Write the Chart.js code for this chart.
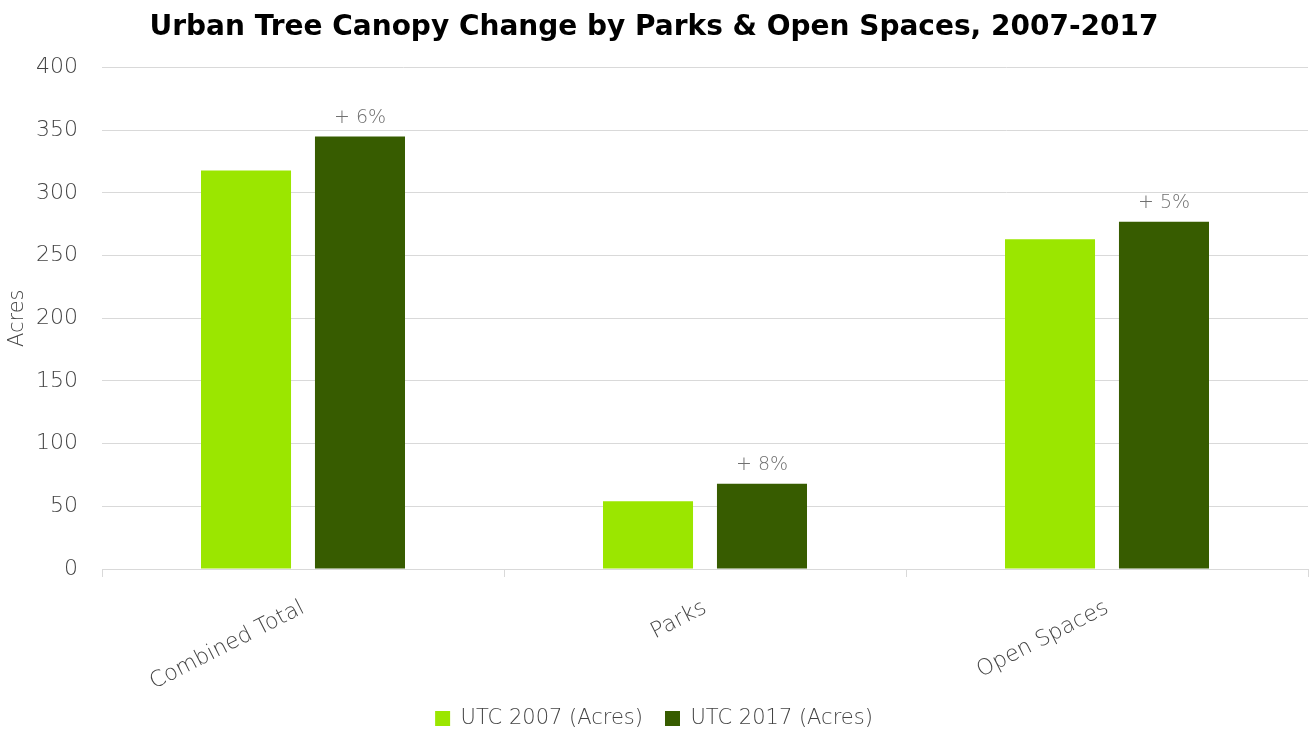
<!DOCTYPE html>
<html>
<head>
<meta charset="utf-8">
<script src="https://cdn.jsdelivr.net/npm/chart.js@4/dist/chart.umd.min.js"></script>
<style>
  html, body { margin: 0; padding: 0; background: #fff; }
  #wrap { width: 1311px; height: 731px; }
</style>
</head>
<body>
<div id="wrap"><canvas id="canopy"></canvas></div>
<script>
// categories and acreage per year
const categories = ['Combined Total', 'Parks', 'Open Spaces'];
const utc2007 = [318, 54, 263];
const utc2017 = [345, 68, 277];
const changeLabels = ['+ 6%', '+ 8%', '+ 5%'];
const yTicks = [0, 50, 100, 150, 200, 250, 300, 350, 400];

const lightGreen = '#9be600';
const darkGreen = '#375c00';
const textGray = '#444444';
const font = "'DejaVu Sans', sans-serif";

// puts the percent change above each 2017 bar
const changeLabelPlugin = {
    id: 'changeLabels',
    afterDatasetsDraw(chart) {
        const ctx = chart.ctx;
        const meta = chart.getDatasetMeta(1);
        ctx.save();
        ctx.font = '200 19px ' + font;
        ctx.fillStyle = '#707070';
        ctx.textAlign = 'center';
        ctx.textBaseline = 'bottom';
        meta.data.forEach((bar, i) => {
            ctx.fillText(changeLabels[i], bar.x, bar.y - 9);
        });
        ctx.restore();
    }
};

new Chart(document.getElementById('canopy'), {
    type: 'bar',
    data: {
        labels: categories,
        datasets: [
            {
                label: 'UTC 2007 (Acres)',
                data: utc2007,
                backgroundColor: lightGreen,
                categoryPercentage: 0.567,
                barPercentage: 0.79
            },
            {
                label: 'UTC 2017 (Acres)',
                data: utc2017,
                backgroundColor: darkGreen,
                categoryPercentage: 0.567,
                barPercentage: 0.79
            }
        ]
    },
    options: {
        responsive: true,
        maintainAspectRatio: false,
        animation: false,
        layout: { padding: { left: 0, right: 3, top: 0, bottom: 0 } },
        plugins: {
            title: {
                display: true,
                text: 'Urban Tree Canopy Change by Parks & Open Spaces, 2007-2017',
                color: '#000',
                font: { family: font, size: 28, weight: 'bold' },
                padding: { top: 11, bottom: 23 }
            },
            legend: {
                position: 'bottom',
                maxHeight: 45,
                labels: {
                    color: textGray,
                    font: { family: font, size: 21, weight: '200' },
                    boxWidth: 15,
                    boxHeight: 15,
                    padding: 22
                }
            },
            tooltip: { enabled: false }
        },
        scales: {
            x: {
                grid: {
                    display: true,
                    drawOnChartArea: false,
                    drawTicks: true,
                    tickLength: 8,
                    color: '#d9d9d9'
                },
                border: { color: '#d9d9d9' },
                ticks: {
                    color: textGray,
                    font: { family: font, size: 22, weight: '200' },
                    minRotation: 27,
                    maxRotation: 27,
                    padding: 18
                },
                afterFit(scale) { scale.height = 117; }
            },
            y: {
                min: 0,
                max: 400,
                afterBuildTicks(scale) {
                    scale.ticks = yTicks.map(v => ({ value: v }));
                },
                grid: { color: '#d9d9d9', drawTicks: false },
                border: { display: false },
                ticks: {
                    color: textGray,
                    font: { family: font, size: 22, weight: '200' },
                    padding: 24
                },
                title: {
                    display: true,
                    text: 'Acres',
                    color: textGray,
                    font: { family: font, size: 21, weight: '200' },
                    padding: { top: 5, bottom: 0 }
                },
                afterFit(scale) { scale.width = 102; }
            }
        }
    },
    plugins: [changeLabelPlugin]
});
</script>
</body>
</html>
